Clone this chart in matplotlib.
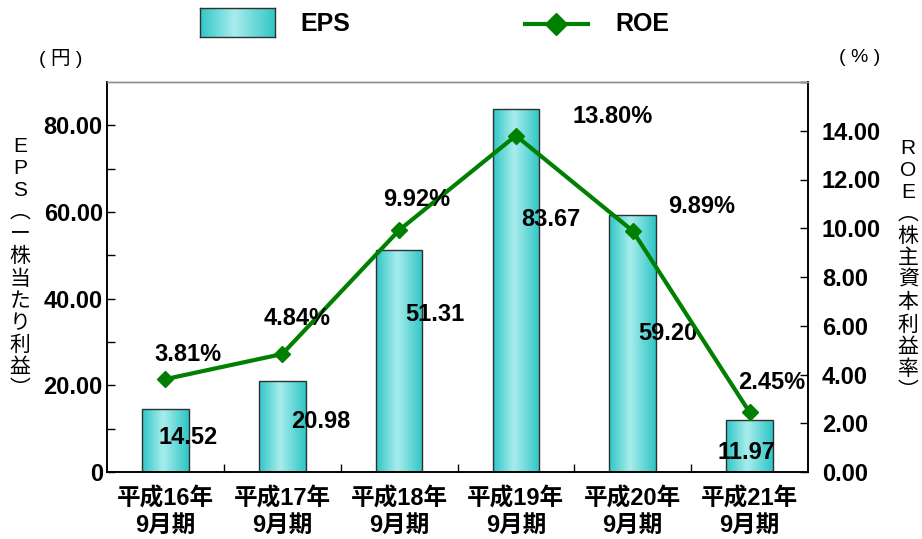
import numpy as np
import matplotlib
matplotlib.use('Agg')
import matplotlib.pyplot as plt
from matplotlib.colors import LinearSegmentedColormap
from matplotlib.lines import Line2D

# ---- data ----
categories = ['平成16年\n9月期', '平成17年\n9月期', '平成18年\n9月期',
              '平成19年\n9月期', '平成20年\n9月期', '平成21年\n9月期']
eps = [14.52, 20.98, 51.31, 83.67, 59.20, 11.97]
roe = [3.81, 4.84, 9.92, 13.80, 9.89, 2.45]
left_ticks = [0, 20, 40, 60, 80]
left_tick_labels = ['0', '20.00', '40.00', '60.00', '80.00']
right_ticks = [0, 2, 4, 6, 8, 10, 12, 14]
right_tick_labels = ['0.00', '2.00', '4.00', '6.00', '8.00', '10.00', '12.00', '14.00']

# label offsets in pixels (dx, dy)
eps_offsets = [(23, -28), (38, -40), (36, -65), (35, -110), (35, -118), (-3, -32)]
roe_offsets = [(23, 25), (15, 36), (18, 31), (97, 19), (69, 24), (22, 30)]

LAT = 'Liberation Sans'
CJK = 'Noto Sans CJK JP'
FAM = [LAT, CJK]

fig = plt.figure(figsize=(9.22, 5.39), dpi=100)
ax = fig.add_axes([107/922, 67/539, 701/922, 390/539])
ax2 = ax.twinx()

x = np.arange(len(categories))
cmap = LinearSegmentedColormap.from_list(
    'teal', [(0, '#2fc6c6'), (0.45, '#a9ecec'), (1, '#2fc6c6')])
grad = np.linspace(0, 1, 256).reshape(1, -1)

bars = ax.bar(x, eps, width=0.40, facecolor='none', edgecolor='#303030',
              linewidth=1.0, zorder=3)
for b in bars:
    x0, w, h = b.get_x(), b.get_width(), b.get_height()
    im = ax.imshow(grad, cmap=cmap, extent=[x0, x0 + w, 0, h],
                   aspect='auto', zorder=2, interpolation='bilinear')
    im.set_clip_path(b)

ax.set_xlim(-0.5, len(categories) - 0.5)
ax.set_ylim(0, 90)
ax2.set_ylim(0, 16)

ax2.plot(x, roe, color='#008000', linewidth=3, marker='D', markersize=8,
         zorder=4)

for xi, v, (dx, dy) in zip(x, eps, eps_offsets):
    ax.annotate(f'{v:.2f}', (xi, v), xytext=(dx, dy), textcoords='offset pixels',
                ha='center', va='center', fontsize=17, fontweight='bold',
                family=LAT, zorder=5)
for xi, v, (dx, dy) in zip(x, roe, roe_offsets):
    ax2.annotate(f'{v:.2f}%', (xi, v), xytext=(dx, dy), textcoords='offset pixels',
                 ha='center', va='center', fontsize=17, fontweight='bold',
                 family=LAT, zorder=5)

# axes ticks
ax.set_xticks(x)
ax.set_xticklabels(categories, fontsize=17, fontweight='bold', family=FAM,
                   linespacing=1.22)
ax.tick_params(axis='x', length=0, pad=11)
ax.set_xticks(np.arange(0.5, len(categories) - 0.5, 1), minor=True)
ax.tick_params(axis='x', which='minor', direction='in', length=6, width=1)

ax.set_yticks(left_ticks)
ax.set_yticklabels(left_tick_labels, fontsize=17, fontweight='bold', family=LAT)
ax.set_yticks(np.arange(10, 90, 20), minor=True)
ax.tick_params(axis='y', which='both', direction='in', length=6, width=1, pad=3)

ax2.set_yticks(right_ticks + [16])
ax2.set_yticklabels(right_tick_labels + [''], fontsize=17, fontweight='bold', family=LAT)
ax2.tick_params(axis='y', direction='in', length=6, width=1, pad=10)

for a in (ax, ax2):
    for s in ('left', 'right', 'bottom'):
        a.spines[s].set_color('black')
        a.spines[s].set_linewidth(1.2)
    a.spines['top'].set_color('#909090')
    a.spines['top'].set_linewidth(1.0)

# units
fig.text(61/922, 1 - 58/539, '( 円 )', ha='center', va='center', fontsize=14,
         family=FAM)
fig.text(860/922, 1 - 58/539, '( % )', ha='center', va='center', fontsize=14,
         family=FAM)

# vertical axis titles
left_title = 'EPS︵ー株当たり利益︶'
right_title = 'ROE︵株主資本利益率︶'
fig.text(20/922, 1 - 268/539, '\n'.join(left_title), ha='center', va='center',
         fontsize=15, family=FAM, linespacing=1.2)
fig.text(908/922, 1 - 270/539, '\n'.join(right_title), ha='center', va='center',
         fontsize=15, family=FAM, linespacing=1.2)

# legend
lax = fig.add_axes([200/922, 1 - 37/539, 75/922, 29/539])
lax.imshow(grad, cmap=cmap, aspect='auto', extent=[0, 1, 0, 1],
           interpolation='bilinear')
lax.set_xticks([]); lax.set_yticks([])
for s in lax.spines.values():
    s.set_color('#303030'); s.set_linewidth(1.0)
fig.text(300/922, 1 - 24/539, 'EPS', ha='left', va='center', fontsize=18,
         fontweight='bold', family=LAT)
fig.add_artist(Line2D([525/922, 588/922], [1 - 24/539, 1 - 24/539],
                      color='#008000', linewidth=3, transform=fig.transFigure))
fig.add_artist(Line2D([556/922], [1 - 24/539], color='#008000', marker='D',
                      markersize=11, transform=fig.transFigure))
fig.text(615/922, 1 - 24/539, 'ROE', ha='left', va='center', fontsize=18,
         fontweight='bold', family=LAT)

fig.savefig('out.png', dpi=100)
